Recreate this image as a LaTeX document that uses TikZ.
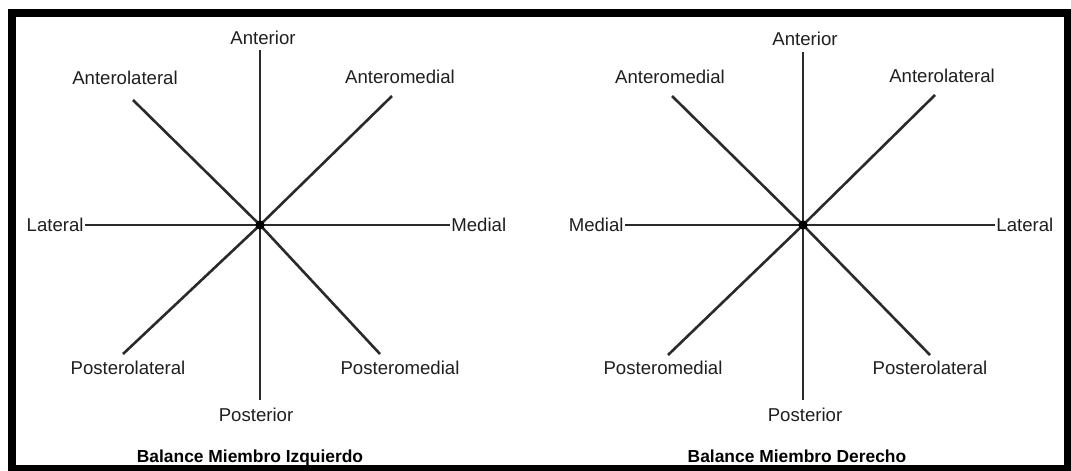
\documentclass[tikz,border=0pt]{standalone}
\usepackage{fontspec}
\setmainfont{Liberation Sans}
\definecolor{linegray}{HTML}{2A2A2A}
\tikzset{
  lbl/.style={font=\fontsize{9.3}{11}\selectfont, text=black!88, inner sep=0pt, text height=6.7pt, text depth=0pt},
  ttl/.style={font=\fontsize{8.7}{10}\selectfont\bfseries, inner sep=0pt, text height=6.3pt, text depth=0pt},
  ray/.style={draw=linegray, line width=1.3pt},
  hub/.style={circle, fill=black, inner sep=0pt, minimum size=4.6pt},
}
\begin{document}
\begin{tikzpicture}[x=0.5pt,y=-0.5pt]
\useasboundingbox (0,0) rectangle (1071,471);
% frame
\fill[black] (8,9) rectangle (1071,471);
\fill[white] (16,17) rectangle (1064,465);

% ---------- left diagram ----------
\node[hub] (Lc) at (260,225) {};
\coordinate (LN) at (260,50);
\coordinate (LNW) at (133,100);
\coordinate (LNE) at (392,96);
\coordinate (LW) at (85,225);
\coordinate (LE) at (450,225);
\coordinate (LSW) at (123,354);
\coordinate (LSE) at (380,354);
\coordinate (LS) at (260,400);
\foreach \p in {LN,LNW,LNE,LW,LE,LSW,LSE,LS} \draw[ray] (Lc.center) -- (\p);
\node[hub] at (260,225) {};
\node[lbl] (LtN) at (263,38) {Anterior};
\node[lbl] (LtNW) at (125,78) {Anterolateral};
\node[lbl] (LtNE) at (400,77) {Anteromedial};
\node[lbl, anchor=east] (LtW) at (84,225) {Lateral};
\node[lbl, anchor=west] (LtE) at (451,225) {Medial};
\node[lbl] (LtSW) at (128,368) {Posterolateral};
\node[lbl] (LtSE) at (400,368) {Posteromedial};
\node[lbl] (LtS) at (256,415) {Posterior};
\node[ttl] (Lt) at (250,456) {Balance Miembro Izquierdo};

% ---------- right diagram ----------
\node[hub] (Rc) at (803,225) {};
\coordinate (RN) at (803,52);
\coordinate (RNW) at (672,96);
\coordinate (RNE) at (935,95);
\coordinate (RW) at (625,225);
\coordinate (RE) at (995,225);
\coordinate (RSW) at (668,355);
\coordinate (RSE) at (930,355);
\coordinate (RS) at (803,400);
\foreach \p in {RN,RNW,RNE,RW,RE,RSW,RSE,RS} \draw[ray] (Rc.center) -- (\p);
\node[hub] at (803,225) {};
\node[lbl] (RtN) at (805,39) {Anterior};
\node[lbl] (RtNW) at (670,77) {Anteromedial};
\node[lbl] (RtNE) at (942,76) {Anterolateral};
\node[lbl, anchor=east] (RtW) at (624,225) {Medial};
\node[lbl, anchor=west] (RtE) at (996,225) {Lateral};
\node[lbl] (RtSW) at (663,368) {Posteromedial};
\node[lbl] (RtSE) at (930,368) {Posterolateral};
\node[lbl] (RtS) at (805,415) {Posterior};
\node[ttl] (Rt) at (797,456) {Balance Miembro Derecho};
\end{tikzpicture}
\end{document}
